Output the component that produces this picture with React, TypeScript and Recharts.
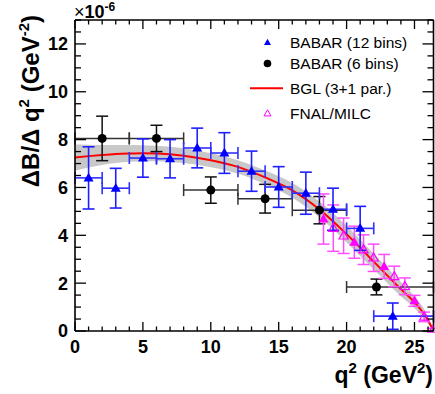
import React from "react";
import { Area, ComposedChart, ErrorBar, Line, Scatter, XAxis, YAxis } from "recharts";

// BABAR, 12 bins (blue triangles); x errors are the bin edges
const b12Q2 = [1, 3, 5, 7, 9, 11, 13, 15, 17, 19, 21, 23.4];
const b12Lo = [0, 2, 4, 6, 8, 10, 12, 14, 16, 18, 20, 22];
const b12Hi = [2, 4, 6, 8, 10, 12, 14, 16, 18, 20, 22, 26.4];
const b12Rate = [6.4, 5.97, 7.23, 7.2, 7.65, 7.44, 6.68, 6.02, 5.76, 5.09, 4.29, 0.62];
const b12Err = [1.3, 0.83, 0.8, 0.8, 0.83, 0.85, 0.84, 0.85, 0.88, 0.88, 0.92, 0.55];

// BABAR, 6 bins (black circles)
const b6Q2 = [2, 6, 10, 14, 18, 22.2];
const b6Lo = [0, 4, 8, 12, 16, 20];
const b6Hi = [4, 8, 12, 16, 20, 26.4];
const b6Rate = [8.05, 8.05, 5.89, 5.53, 5.05, 1.84];
const b6Err = [0.93, 0.55, 0.55, 0.6, 0.57, 0.33];

// FNAL/MILC lattice points (filled = used in fit, open = others)
const fnalFillQ2 = [18.3, 20.57, 22.77, 25.0];
const fnalFillRate = [4.68, 3.71, 2.7, 1.26];
const fnalFillErr = [1.05, 0.67, 0.5, 0.23];
const fnalOpenQ2 = [19.02, 19.78, 21.25, 21.99, 23.51, 24.29, 25.71, 26.35];
const fnalOpenRate = [4.3, 3.98, 3.4, 3.06, 2.28, 1.87, 0.59, 0.03];
const fnalOpenErr = [0.97, 0.74, 0.62, 0.57, 0.43, 0.35, 0.2, 0.08];

// BGL (3+1 par.) fit curve and its error band
const bglQ2 = [0, 1, 2, 3, 4, 5, 6, 8, 10, 12, 14, 16, 18, 20, 22, 24, 25, 26, 26.4];
const bglRate = [7.25, 7.31, 7.36, 7.4, 7.42, 7.43, 7.42, 7.33, 7.14, 6.86, 6.42, 5.88, 5.08, 4.05, 2.9, 1.75, 1.2, 0.45, 0];
const bglErr = [0.55, 0.48, 0.42, 0.38, 0.35, 0.33, 0.32, 0.31, 0.29, 0.28, 0.29, 0.31, 0.33, 0.35, 0.33, 0.3, 0.25, 0.15, 0];

const xMajor = [0, 5, 10, 15, 20, 25];
const yMajor = [0, 2, 4, 6, 8, 10, 12];
const xTicks = Array.from({ length: 27 }, (_, i) => i);
const yTicks = Array.from({ length: 27 }, (_, i) => i / 2);

const FONT = "'Liberation Sans', Arial, Helvetica, sans-serif";

const babar12 = b12Q2.map((q2, i) => ({
  q2,
  rate: b12Rate[i],
  rateErr: b12Err[i],
  q2Err: [q2 - b12Lo[i], b12Hi[i] - q2],
}));
const babar6 = b6Q2.map((q2, i) => ({
  q2,
  rate: b6Rate[i],
  rateErr: b6Err[i],
  q2Err: [q2 - b6Lo[i], b6Hi[i] - q2],
}));
const fnalFill = fnalFillQ2.map((q2, i) => ({ q2, rate: fnalFillRate[i], rateErr: fnalFillErr[i] }));
const fnalOpen = fnalOpenQ2.map((q2, i) => ({ q2, rate: fnalOpenRate[i], rateErr: fnalOpenErr[i] }));
const bgl = bglQ2.map((q2, i) => ({
  q2,
  rate: bglRate[i],
  band: [bglRate[i] - bglErr[i], bglRate[i] + bglErr[i]],
}));

const tri = (cx: number, cy: number, w: number) =>
  `${cx - w},${cy + w * 0.7} ${cx + w},${cy + w * 0.7} ${cx},${cy - w * 1.05}`;

const BlueTri = (p: any) => <polygon points={tri(p.cx, p.cy, 5)} fill="#0000ff" />;
const MagentaTri = (p: any) => <polygon points={tri(p.cx, p.cy, 5)} fill="#ff00ff" />;
const MagentaOpen = (p: any) => (
  <polygon points={tri(p.cx, p.cy, 4.6)} fill="none" stroke="#ff00ff" strokeWidth={1.2} />
);
const BlackDot = (p: any) => <circle cx={p.cx} cy={p.cy} r={4.5} fill="#000" />;

const BottomTick = (p: any) => {
  const v = p.payload.value;
  const major = xMajor.includes(v);
  return (
    <g>
      <line x1={p.x} x2={p.x} y1={p.y} y2={p.y - (major ? 9 : 4.5)} stroke="#000" strokeWidth={1.3} />
      {major && (
        <text x={p.x} y={p.y + 22} textAnchor="middle" fontSize={18} fontWeight="bold" fontFamily={FONT} fill="#000">
          {v}
        </text>
      )}
    </g>
  );
};
const TopTick = (p: any) => {
  const major = xMajor.includes(p.payload.value);
  return <line x1={p.x} x2={p.x} y1={p.y} y2={p.y + (major ? 9 : 4.5)} stroke="#000" strokeWidth={1.3} />;
};
const LeftTick = (p: any) => {
  const v = p.payload.value;
  const major = yMajor.includes(v);
  return (
    <g>
      <line x1={p.x} x2={p.x + (major ? 11 : 6)} y1={p.y} y2={p.y} stroke="#000" strokeWidth={1.3} />
      {major && (
        <text x={p.x - 7} y={p.y} dy="0.36em" textAnchor="end" fontSize={18} fontWeight="bold" fontFamily={FONT} fill="#000">
          {v}
        </text>
      )}
    </g>
  );
};
const RightTick = (p: any) => {
  const major = yMajor.includes(p.payload.value);
  return <line x1={p.x} x2={p.x - (major ? 11 : 6)} y1={p.y} y2={p.y} stroke="#000" strokeWidth={1.3} />;
};

const axisLine = { stroke: "#000", strokeWidth: 1.6 };

export default function App() {
  return (
    <div style={{ position: "absolute", left: 0, top: 0, width: 435, height: 394, background: "#fff" }}>
      <ComposedChart width={435} height={394} margin={{ top: 19, right: 0.5, bottom: 62, left: 74 }}>
        <XAxis
          xAxisId="b"
          dataKey="q2"
          type="number"
          domain={[0, 26.4]}
          allowDataOverflow
          ticks={xTicks}
          interval={0}
          height={1}
          tickSize={0}
          tickMargin={0}
          tickLine={false}
          axisLine={axisLine}
          tick={BottomTick}
        />
        <XAxis
          xAxisId="t"
          orientation="top"
          dataKey="q2"
          type="number"
          domain={[0, 26.4]}
          allowDataOverflow
          ticks={xTicks}
          interval={0}
          height={1}
          tickSize={0}
          tickMargin={0}
          tickLine={false}
          axisLine={axisLine}
          tick={TopTick}
        />
        <YAxis
          yAxisId="l"
          dataKey="rate"
          type="number"
          domain={[0, 13]}
          allowDataOverflow
          ticks={yTicks}
          interval={0}
          width={1}
          tickSize={0}
          tickMargin={0}
          tickLine={false}
          axisLine={axisLine}
          tick={LeftTick}
        />
        <YAxis
          yAxisId="r"
          orientation="right"
          dataKey="rate"
          type="number"
          domain={[0, 13]}
          allowDataOverflow
          ticks={yTicks}
          interval={0}
          width={1}
          tickSize={0}
          tickMargin={0}
          tickLine={false}
          axisLine={axisLine}
          tick={RightTick}
        />

        <Area
          xAxisId="b"
          yAxisId="l"
          data={bgl}
          dataKey="band"
          type="monotone"
          stroke="none"
          fill="#c8c8c8"
          fillOpacity={1}
          isAnimationActive={false}
        />
        <Line
          xAxisId="b"
          yAxisId="l"
          data={bgl}
          dataKey="rate"
          type="monotone"
          stroke="#ff0000"
          strokeWidth={2}
          dot={false}
          isAnimationActive={false}
        />

        <Scatter xAxisId="b" yAxisId="l" data={babar6} dataKey="rate" shape={BlackDot} isAnimationActive={false}>
          <ErrorBar dataKey="q2Err" direction="x" width={6} stroke="#333" strokeWidth={1.5} />
          <ErrorBar dataKey="rateErr" direction="y" width={6} stroke="#111" strokeWidth={1.5} />
        </Scatter>
        <Scatter xAxisId="b" yAxisId="l" data={fnalOpen} dataKey="rate" shape={MagentaOpen} isAnimationActive={false}>
          <ErrorBar dataKey="rateErr" direction="y" width={6} stroke="#ff4dff" strokeWidth={1.5} />
        </Scatter>
        <Scatter xAxisId="b" yAxisId="l" data={fnalFill} dataKey="rate" shape={MagentaTri} isAnimationActive={false}>
          <ErrorBar dataKey="rateErr" direction="y" width={6} stroke="#ff4dff" strokeWidth={1.5} />
        </Scatter>
        <Scatter xAxisId="b" yAxisId="l" data={babar12} dataKey="rate" shape={BlueTri} isAnimationActive={false}>
          <ErrorBar dataKey="q2Err" direction="x" width={6} stroke="#3030ff" strokeWidth={1.6} />
          <ErrorBar dataKey="rateErr" direction="y" width={6} stroke="#2020ff" strokeWidth={1.6} />
        </Scatter>
      </ComposedChart>

      <svg
        width={435}
        height={394}
        style={{ position: "absolute", left: 0, top: 0, pointerEvents: "none" }}
        fontFamily={FONT}
      >
        <text x={74} y={18} fontSize={18} fill="#000">
          ×<tspan fontWeight="bold">10</tspan>
          <tspan fontWeight="bold" fontSize={12} dy={-7}>-6</tspan>
        </text>

        <text transform="translate(39,15) rotate(-90)" textAnchor="end" fontSize={24} fontWeight="bold" fill="#000">
          ΔB/Δ q<tspan fontSize={15} dy={-10}>2</tspan>
          <tspan dy={10}> (GeV</tspan>
          <tspan fontSize={15} dy={-10}>-2</tspan>
          <tspan dy={10}>)</tspan>
        </text>

        <text x={433} y={383} textAnchor="end" fontSize={23} fontWeight="bold" fill="#000">
          q<tspan fontSize={15} dy={-10}>2</tspan>
          <tspan dy={10}> (GeV</tspan>
          <tspan fontSize={15} dy={-10}>2</tspan>
          <tspan dy={10}>)</tspan>
        </text>

        <g fontSize={15.5} fill="#000">
          <polygon points={tri(267.5, 42.5, 3.5)} fill="#0000ff" />
          <text x={290} y={42.5} dy="0.36em">BABAR (12 bins)</text>
          <circle cx={267.5} cy={63.5} r={3.8} fill="#000" />
          <text x={290} y={63.5} dy="0.36em">BABAR (6 bins)</text>
          <line x1={250} x2={283} y1={88.3} y2={88.3} stroke="#ff0000" strokeWidth={2} />
          <text x={290} y={88.3} dy="0.36em">BGL (3+1 par.)</text>
          <polygon points={tri(267.5, 113.5, 3.5)} fill="none" stroke="#ff00ff" strokeWidth={1} />
          <text x={290} y={113.3} dy="0.36em">FNAL/MILC</text>
        </g>
      </svg>
    </div>
  );
}
